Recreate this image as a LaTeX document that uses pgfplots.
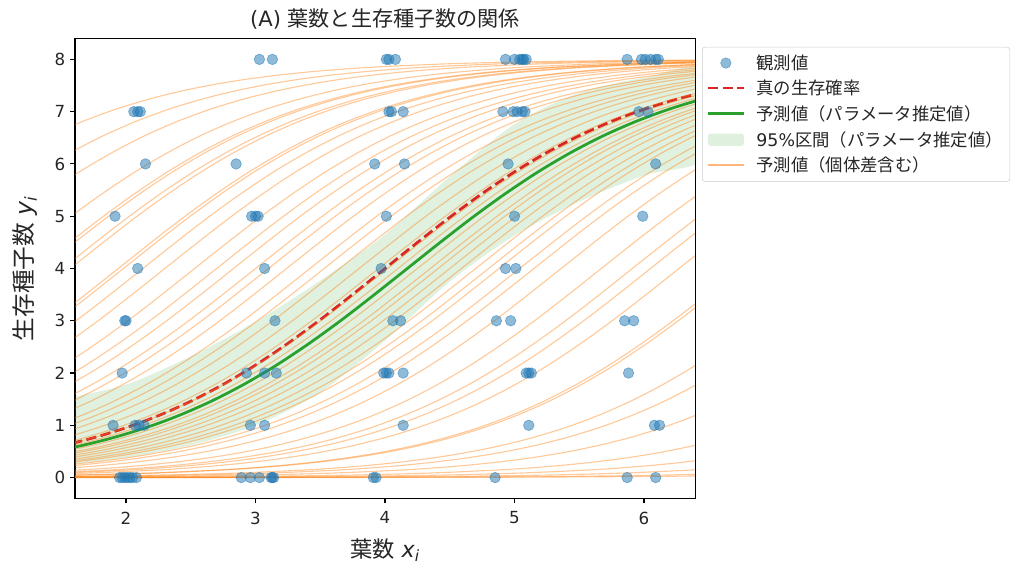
\documentclass[border=0pt]{standalone}
\usepackage{fontspec}
\setmainfont{DejaVu Sans}
\newfontfamily\jp{Noto Sans CJK JP}
\usepackage{pgfplots}
\pgfplotsset{compat=1.18}
\usepackage{pgfplotstable}
\definecolor{tabblue}{HTML}{1F77B4}
\definecolor{tabor}{HTML}{FF7F0E}
\definecolor{tabgreen}{HTML}{2CA02C}
\definecolor{tabred}{HTML}{D62728}
\definecolor{palor}{HTML}{FFB57F}

\pgfplotsset{
  lineimg/.style={legend image code/.code={\draw[##1] (0pt,0.4pt) -- (26pt,0.4pt);}},
  markimg/.style={legend image code/.code={\draw[##1] plot coordinates {(13pt,0pt)};}},
  areaimg/.style={legend image code/.code={\fill[##1] (0pt,-4.4pt) rectangle (26pt,4.4pt);}},
}

% base logistic curve 8/(1+exp(-0.99 x)), centred at x=0
\pgfplotstableread{
x y
-10.101 0.0004
-8.081 0.0027
-7.071 0.0073
-6.061 0.0198
-5.556 0.0326
-5.051 0.0535
-4.545 0.0879
-4.040 0.1439
-3.788 0.1838
-3.535 0.2345
-3.283 0.2986
-3.030 0.3794
-2.778 0.4807
-2.525 0.6069
-2.273 0.7628
-2.020 0.9536
-1.768 1.1844
-1.515 1.4594
-1.263 1.7816
-1.010 2.1515
-0.758 2.5666
-0.505 3.0203
-0.253 3.5026
0 4
0.253 4.4974
0.505 4.9797
0.758 5.4334
1.010 5.8485
1.263 6.2184
1.515 6.5406
1.768 6.8156
2.020 7.0464
2.273 7.2372
2.525 7.3931
2.778 7.5193
3.030 7.6206
3.283 7.7014
3.535 7.7655
3.788 7.8162
4.040 7.8561
4.545 7.9121
5.051 7.9465
5.556 7.9674
6.061 7.9802
7.071 7.9927
8.081 7.9973
10.101 7.9996
}\base

\pgfplotstableread{
x y
1.95 0
1.97 0
1.99 0
2.01 0
2.03 0
2.05 0
2.08 0
2.89 0
2.96 0
3.03 0
3.12 0
3.13 0
3.14 0
3.91 0
3.93 0
4.85 0
5.87 0
6.09 0
1.90 1
2.07 1
2.10 1
2.14 1
2.96 1
3.07 1
4.14 1
5.11 1
6.08 1
6.12 1
1.97 2
2.93 2
3.07 2
3.16 2
3.99 2
4.01 2
4.03 2
4.14 2
5.09 2
5.11 2
5.13 2
5.88 2
1.99 3
2.00 3
3.15 3
4.06 3
4.12 3
4.86 3
4.97 3
5.85 3
5.92 3
2.09 4
3.07 4
3.97 4
4.93 4
5.01 4
1.915 5
2.97 5
3.00 5
3.02 5
4.01 5
5.00 5
5.99 5
2.15 6
2.85 6
3.92 6
4.15 6
4.95 6
6.09 6
2.06 7
2.09 7
2.11 7
4.03 7
4.05 7
4.14 7
4.91 7
4.99 7
5.02 7
5.06 7
5.08 7
5.96 7
6.03 7
3.03 8
3.13 8
4.01 8
4.03 8
4.08 8
4.93 8
5.00 8
5.04 8
5.06 8
5.07 8
5.09 8
5.87 8
5.98 8
6.01 8
6.05 8
6.09 8
6.11 8
}\obs

\begin{document}
\begin{tikzpicture}
\useasboundingbox (-54pt,-51.5pt) rectangle (685.4pt,358.9pt);
\begin{axis}[
  at={(0,0)}, anchor=south west,
  scale only axis, width=446.4pt, height=331.2pt,
  xmin=1.606, xmax=6.394, ymin=-0.4, ymax=8.4,
  xtick={2,3,4,5,6}, ytick={0,1,2,3,4,5,6,7,8},
  tick align=outside, xtick pos=bottom, ytick pos=left,
  major tick length=3.5pt,
  every tick/.style={black, line width=0.8pt},
  axis line style={line width=0.8pt},
  /pgf/number format/assume math mode=true,
  tick label style={font=\fontsize{12}{14}\selectfont, text=black!85},
  xticklabel style={yshift=-2.5pt},
  no markers,
  title={(A) {\jp 葉数と生存種子数の関係}},
  title style={font=\fontsize{15.2}{18}\selectfont, yshift=-3pt, text=black!85},
  xlabel={{\jp 葉数} \textit{x}\textsubscript{\textit{i}}},
  ylabel={{\jp 生存種子数} \textit{y}\textsubscript{\textit{i}}},
  xlabel style={font=\fontsize{16}{19}\selectfont, at={(axis description cs:0.5,-0.1117)}, anchor=center, text=black!85},
  ylabel style={font=\fontsize{17}{20}\selectfont, at={(axis description cs:-0.0806,0.5)}, anchor=center, text=black!85},
  orc/.style={tabor, opacity=0.42, line width=0.8pt, smooth},
  legend style={at={(1,1)}, anchor=north west, xshift=5pt, yshift=-6pt,
    draw=black!20, rounded corners=2pt, fill=white, text=black!85,
    font=\fontsize{12.5}{15}\selectfont, row sep=3.3pt,
    inner xsep=3pt, inner ysep=4pt,
    nodes={inner ysep=1.5pt},
    /tikz/every odd column/.append style={column sep=6pt}},
  legend cell align=left,
]
% observations
\addplot[only marks, mark=*, mark size=3.8pt, tabblue,
  mark options={fill=tabblue, draw=tabblue, line width=0.5pt, fill opacity=0.5, draw opacity=0.5},
  forget plot] table[x=x, y=y] {\obs};

% 95% band (upper edge left to right, then lower edge right to left)
\addplot[fill=tabgreen, fill opacity=0.15, draw=none, smooth, forget plot] coordinates {
 (1.5,1.50) (2.0,1.78) (2.5,2.32) (3.0,2.98) (3.5,3.77) (4.0,4.65)
 (4.5,5.76) (5.0,6.76) (5.5,7.36) (6.0,7.65) (6.5,7.80)
 (6.5,6.16) (6.0,5.78) (5.5,5.28) (5.0,4.63) (4.5,3.75) (4.0,2.62)
 (3.5,1.63) (3.0,1.0) (2.5,0.62) (2.0,0.38) (1.5,0.235)} -- cycle;

% true survival probability
\addplot[tabred, line width=2pt, dash pattern=on 7.4pt off 3.2pt, smooth, forget plot] coordinates {
 (1.25,0.4807) (1.5,0.6069) (1.75,0.7628) (2.0,0.9536) (2.25,1.1844) (2.5,1.4594)
 (2.75,1.7816) (3.0,2.1515) (3.25,2.5666) (3.5,3.0203) (3.75,3.5026) (4.0,4)
 (4.25,4.4974) (4.5,4.9797) (4.75,5.4334) (5.0,5.8485) (5.25,6.2184) (5.5,6.5406)
 (5.75,6.8156) (6.0,7.0464) (6.25,7.2372) (6.5,7.3931)};

% prediction (parameter estimates)
\addplot[tabgreen, line width=2pt, smooth, forget plot] coordinates {
 (1.394,0.4807) (1.647,0.6069) (1.899,0.7628) (2.152,0.9536) (2.404,1.1844)
 (2.657,1.4594) (2.909,1.7816) (3.162,2.1515) (3.414,2.5666) (3.667,3.0203)
 (3.919,3.5026) (4.172,4) (4.425,4.4974) (4.677,4.9797) (4.930,5.4334)
 (5.182,5.8485) (5.435,6.2184) (5.687,6.5406) (5.940,6.8156) (6.192,7.0464)
 (6.445,7.2372) (6.697,7.3931)};

% predictions including individual differences (one curve per individual, centre x0)
\pgfplotsinvokeforeach{-0.10,0.31,0.63,1.06,1.31,1.35,1.51,1.57,1.94,1.98,2.13,2.30,2.53,2.70,2.83,3.00,3.10,3.24,3.42,3.53,3.65,3.80,3.95,4.02,4.10,4.25,4.35,4.41,4.50,4.59,4.70,4.80,4.88,5.04,5.15,5.36,5.67,5.91,6.05,6.27,6.74,6.78,7.41,7.67,8.16,8.90,9.60,10.40,11.30,12.00}{
  \addplot[orc, forget plot] table[x expr=\thisrow{x}+(#1), y=y] {\base};
}

% legend
\addlegendimage{markimg, only marks, mark=*, mark size=3.8pt, tabblue,
  mark options={fill=tabblue, draw=tabblue, fill opacity=0.5, draw opacity=0.5}}
\addlegendentry{{\jp 観測値}}
\addlegendimage{lineimg, tabred, line width=2pt, dash pattern=on 7.4pt off 3.2pt}
\addlegendentry{{\jp 真の生存確率}}
\addlegendimage{lineimg, tabgreen, line width=2pt}
\addlegendentry{{\jp 予測値（パラメータ推定値）}}
\addlegendimage{areaimg, fill=tabgreen, fill opacity=0.15, draw=none}
\addlegendentry{95\%{\jp 区間（パラメータ推定値）}}
\addlegendimage{lineimg, palor, line width=1.5pt}
\addlegendentry{{\jp 予測値（個体差含む）}}
\end{axis}
\end{tikzpicture}
\end{document}
